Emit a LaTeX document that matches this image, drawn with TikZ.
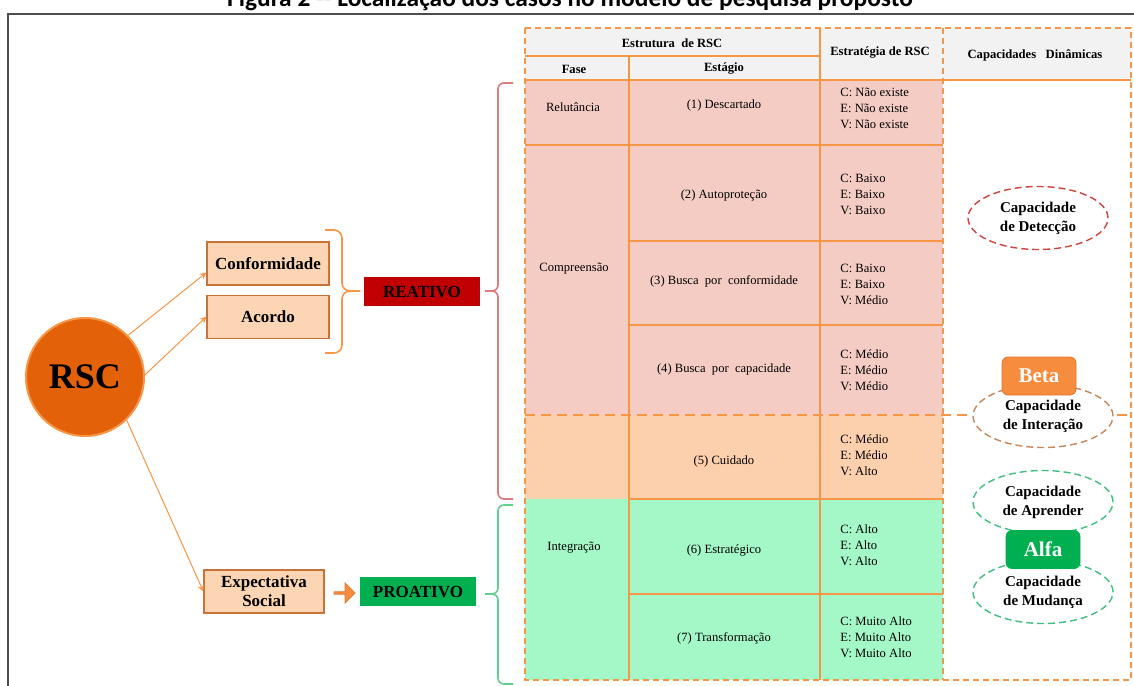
\documentclass[tikz,border=0pt]{standalone}
\usepackage{fontspec}
\setmainfont{Liberation Serif}
\newfontfamily\titlefont{Carlito}
\usetikzlibrary{positioning,shapes.geometric,shapes.arrows}

\definecolor{lineorange}{HTML}{F79646}
\definecolor{boxfill}{HTML}{FCD5B4}
\definecolor{boxedge}{HTML}{C8723A}
\definecolor{rscfill}{HTML}{E36209}
\definecolor{hdrgray}{HTML}{F2F2F2}
\definecolor{rowpink}{HTML}{F4CCC4}
\definecolor{rowpeach}{HTML}{FDD0AD}
\definecolor{rowgreen}{HTML}{A4F8C8}
\definecolor{reatred}{HTML}{C00000}
\definecolor{proagreen}{HTML}{00B050}
\definecolor{bracered}{HTML}{DE7A80}
\definecolor{bracegreen}{HTML}{5FD08F}
\definecolor{betafill}{HTML}{F68C3E}
\definecolor{betaedge}{HTML}{E0762A}
\definecolor{detred}{HTML}{D0443C}
\definecolor{intbrown}{HTML}{C8875A}
\definecolor{capgreen}{HTML}{40C080}
\definecolor{framegray}{HTML}{4D4D4D}

\begin{document}
\begin{tikzpicture}[x=0.5pt,y=-0.5pt,>=stealth,
	gridline/.style={draw=lineorange,line width=0.75pt},
	dashline/.style={draw=lineorange,line width=0.6pt,dash pattern=on 3pt off 2pt},
	cell/.style={font=\fontsize{6.3}{8}\selectfont,inner sep=0pt},
	headcell/.style={font=\bfseries\fontsize{6.3}{8}\selectfont,inner sep=0pt},
	strat/.style={cell,align=left,anchor=west},
	box/.style={draw=boxedge,fill=boxfill,line width=0.6pt,minimum width=61pt,minimum height=21.5pt,inner sep=0pt,align=center,font=\bfseries\fontsize{8.5}{9.5}\selectfont},
	tag/.style={minimum width=58pt,minimum height=14.5pt,inner sep=0pt,font=\bfseries\fontsize{8.5}{9.5}\selectfont},
	link/.style={->,draw=lineorange,line width=0.5pt},
	capac/.style={ellipse,fill=white,line width=0.7pt,dash pattern=on 3.5pt off 2pt,minimum width=70pt,minimum height=31.5pt,inner sep=0pt,align=center,font=\bfseries\fontsize{7.5}{9.5}\selectfont},
	grade/.style={rounded corners=3pt,minimum width=37pt,minimum height=19pt,inner sep=0pt,text=white,font=\bfseries\fontsize{10.5}{12}\selectfont},
	bracket/.style={line width=0.8pt,rounded corners=#1}
]
\useasboundingbox (0,0) rectangle (1134,685);
\clip (0,0) rectangle (1134,685);

%----------------------------
% Title and frame
%----------------------------
\node[anchor=base,font=\titlefont\bfseries\fontsize{12.7}{15}\selectfont] (title) at (570,6)
	{Figura 2 -- Localização dos casos no modelo de pesquisa proposto};
\draw[framegray,line width=1pt] (8,700) -- (8,14) -- (1140,14);

%----------------------------
% Right: table
%----------------------------
\begin{scope}
	% backgrounds
	\fill[hdrgray] (525,28) rectangle (1131,80);
	\fill[rowpink] (525,80) rectangle (943,415);
	\fill[rowpeach] (525,415) rectangle (943,499);
	\fill[rowgreen] (525,499) rectangle (943,680);
	
	% solid lines
	\draw[gridline] (525,56) -- (820,56);
	\draw[gridline] (629,56) -- (629,680);
	\draw[gridline] (820,28) -- (820,680);
	\draw[gridline] (525,80) -- (1131,80);
	\draw[gridline] (525,145) -- (943,145);
	\foreach \y in {241,325,499,594}
	\draw[gridline] (629,\y) -- (943,\y);
	
	% dashed lines
	\draw[dashline] (525,28) rectangle (1131,680);
	\draw[dashline] (943,28) -- (943,680);
	\draw[draw=lineorange,line width=1pt,dash pattern=on 5pt off 3pt] (525,415) -- (1131,415);
	
	% headers
	\node[headcell] (hstruct) at (672,43) {Estrutura~ de RSC};
	\node[headcell] (hfase) at (574,69) {Fase};
	\node[headcell] (hstage) at (724,69) {Estágio};
	\node[headcell] (hstrat) at (880,53) {Estratégia de RSC};
	\node[headcell] (hcap) at (1035,55) {Capacidades~~ Dinâmicas};
	
	% phases
	\node[cell] (relut) at (573,107) {Relutância};
	\node[cell] (compr) at (574,269) {Compreensão};
	\node[cell] (integ) at (574,548) {Integração};
	
	% stages
	\foreach \n/\y/\t in {1/105/{(1) Descartado},2/195/{(2) Autoproteção},
		3/281/{(3) Busca~ por~ conformidade},4/369/{(4) Busca~ por~ capacidade},
		5/461/{(5) Cuidado},6/550/{(6) Estratégico},7/638/{(7) Transformação}}
	\node[cell] (stage\n) at (724,\y) {\t};
	
	% strategy levels
	\node[strat] (lev1) at (840,108) {C: Não existe\\E: Não existe\\V: Não existe};
	\node[strat] (lev2) at (840,194) {C: Baixo\\E: Baixo\\V: Baixo};
	\node[strat] (lev3) at (840,284) {C: Baixo\\E: Baixo\\V: Médio};
	\node[strat] (lev4) at (840,370) {C: Médio\\E: Médio\\V: Médio};
	\node[strat] (lev5) at (840,455) {C: Médio\\E: Médio\\V: Alto};
	\node[strat] (lev6) at (840,545) {C: Alto\\E: Alto\\V: Alto};
	\node[strat] (lev7) at (840,637) {C: Muito Alto\\E: Muito Alto\\V: Muito Alto};
	
	% dynamic capabilities
	\node[capac,draw=detred] (detec) at (1038,218) {Capacidade\\de Detecção};
	\node[capac,draw=intbrown] (inter) at (1043,416) {Capacidade\\de Interação};
	\node[capac,draw=capgreen] (apren) at (1043,502) {Capacidade\\de Aprender};
	\node[capac,draw=capgreen] (mudan) at (1043,592) {Capacidade\\de Mudança};
	\node[grade,fill=betafill,draw=betaedge] (beta) at (1039,376) {Beta};
	\node[grade,fill=proagreen,draw=proagreen] (alfa) at (1043,549.5) {Alfa};
\end{scope}

%----------------------------
% Left: RSC and its branches
%----------------------------
\node[circle,fill=rscfill,draw=lineorange,line width=1pt,minimum size=59pt,inner sep=0pt,
	font=\bfseries\fontsize{18}{20}\selectfont] (rsc) at (85,377) {RSC};

\node[box] (conf) at (268,263.5) {Conformidade};
\node[box,below=4.5pt of conf] (acordo) {Acordo};
\node[box,minimum width=60pt] (expect) at (264,591.5) {Expectativa\\Social};

\node[tag,fill=reatred] (reat) at (422,291.5) {REATIVO};
\node[tag,fill=proagreen,right=17.5pt of expect] (proat) {PROATIVO};

\node[single arrow,fill=betafill,draw=betaedge,line width=0.4pt,minimum height=10.5pt,
	minimum width=10pt,single arrow head extend=1.5pt,inner sep=0pt] (blk) at (344,593) {};

% arrows from RSC
\draw[link] (rsc.44) -- ([yshift=-4.5pt]conf.west);
\draw[link] (rsc.2) -- (acordo.west);
\draw[link] (rsc.-46) -- (expect.west);

% braces (two halves each)
\draw[lineorange,bracket=4pt] (325,230) -- (342,230) -- (342,291) -- (360,291);
\draw[lineorange,bracket=4pt] (325,353) -- (342,353) -- (342,291) -- (360,291);
\draw[bracered,bracket=3pt] (513,83) -- (498,83) -- (498,291) -- (485,291);
\draw[bracered,bracket=3pt] (513,499) -- (498,499) -- (498,291) -- (485,291);
\draw[bracegreen,bracket=3pt] (513,505) -- (498,505) -- (498,594) -- (485,594);
\draw[bracegreen,bracket=3pt] (513,684) -- (498,684) -- (498,594) -- (485,594);

\end{tikzpicture}
\end{document}
